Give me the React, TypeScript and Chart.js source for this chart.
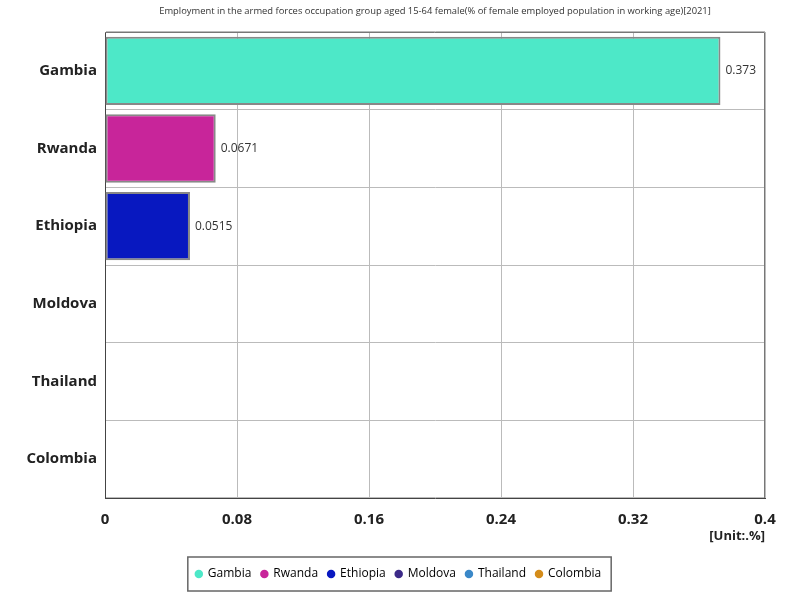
import React, { useEffect, useRef } from "react";
import { Chart, registerables } from "chart.js";

Chart.register(...registerables);

const categories = ["Gambia", "Rwanda", "Ethiopia", "Moldova", "Thailand", "Colombia"];
const values = [0.373, 0.0671, 0.0515, 0, 0, 0];
const valueLabels = ["0.373", "0.0671", "0.0515", "", "", ""];
const colors = ["#4de8c8", "#c8259a", "#0818c0", "#3c2a88", "#3a88c8", "#d48c1a"];
const xTicks = [0, 0.08, 0.16, 0.24, 0.32, 0.4];
const titleText =
  "Employment in the armed forces occupation group aged 15-64 female(% of female employed population in working age)[2021]";
const unitText = "[Unit:.%]";

const FONT = "'Open Sans', 'Noto Sans', sans-serif";
const LEGEND_SHIFT = 16;

const extrasPlugin = {
  id: "extras",
  afterLayout(chart: any) {
    const lg = chart.legend;
    if (lg) {
      lg.left += LEGEND_SHIFT;
      lg.right += LEGEND_SHIFT;
      (lg.legendHitBoxes || []).forEach((h: any) => {
        h.left += LEGEND_SHIFT;
      });
    }
  },
  afterDatasetsDraw(chart: any) {
    const ctx = chart.ctx;
    const meta = chart.getDatasetMeta(0);
    const a = chart.chartArea;
    ctx.save();
    // title centred over plot area
    ctx.font = `9.4px ${FONT}`;
    ctx.fillStyle = "#333";
    ctx.textAlign = "center";
    ctx.textBaseline = "middle";
    ctx.fillText(titleText, (a.left + a.right) / 2, 11);
    // value labels
    ctx.font = `12px ${FONT}`;
    ctx.fillStyle = "#333";
    ctx.textAlign = "left";
    meta.data.forEach((bar: any, i: number) => {
      if (!valueLabels[i]) return;
      ctx.fillText(valueLabels[i], bar.x + 5, bar.y);
    });
    // frame top and right
    ctx.strokeStyle = "#777";
    ctx.lineWidth = 1;
    ctx.beginPath();
    ctx.moveTo(a.left, a.top + 0.5);
    ctx.lineTo(a.right - 0.5, a.top + 0.5);
    ctx.lineTo(a.right - 0.5, a.bottom);
    ctx.stroke();
    // unit label
    ctx.font = `bold 13px ${FONT}`;
    ctx.fillStyle = "#222";
    ctx.textAlign = "right";
    ctx.fillText(unitText, a.right, a.bottom + 38);
    ctx.restore();
  },
  afterDraw(chart: any) {
    const ctx = chart.ctx;
    const lg = chart.legend;
    if (lg && lg.legendHitBoxes && lg.legendHitBoxes.length) {
      const hb = lg.legendHitBoxes;
      const x0 = hb[0].left - 8;
      const last = hb[hb.length - 1];
      const x1 = last.left + last.width + 10;
      const cy = hb[0].top + hb[0].height / 2;
      ctx.save();
      ctx.strokeStyle = "#666";
      ctx.lineWidth = 1.5;
      ctx.strokeRect(x0, cy - 17, x1 - x0, 34);
      ctx.restore();
    }
  },
};

export default function App() {
  const ref = useRef<HTMLCanvasElement>(null);
  useEffect(() => {
    const chart = new Chart(ref.current!, {
      type: "bar",
      data: {
        labels: categories,
        datasets: [
          {
            data: values,
            backgroundColor: colors,
            borderColor: "#888",
            borderWidth: 2,
            borderSkipped: false,
            categoryPercentage: 0.88,
            barPercentage: 1,
          },
        ],
      },
      options: {
        indexAxis: "y",
        animation: false,
        responsive: true,
        maintainAspectRatio: false,
        layout: { padding: { left: 0, right: 35, top: 32, bottom: 10 } },
        plugins: {
          title: { display: false },
          tooltip: { enabled: false },
          legend: {
            position: "bottom",
            labels: {
              font: { family: FONT, size: 12 },
              color: "#333",
              usePointStyle: true,
              pointStyle: "circle",
              boxWidth: 6,
              boxHeight: 6,
              padding: 10,
              generateLabels: () =>
                categories.map((c, i) => ({
                  text: c,
                  fillStyle: colors[i],
                  strokeStyle: colors[i],
                  lineWidth: 0,
                  pointStyle: "circle",
                  hidden: false,
                  index: i,
                })),
            },
            onClick: () => {},
          },
        },
        scales: {
          x: {
            min: 0,
            max: 0.4,
            afterBuildTicks: (scale: any) => {
              scale.ticks = xTicks.map((v) => ({ value: v }));
            },
            ticks: {
              font: { family: FONT, size: 15, weight: "bold" },
              color: "#222",
              padding: 13,
              callback: (v: any) => String(Number(v)),
            },
            grid: { color: "#bbb", drawTicks: false },
            border: { color: "#444", width: 1 },
            afterFit: (scale: any) => {
              scale.height = 60;
            },
          },
          y: {
            ticks: {
              font: { family: FONT, size: 15, weight: "bold" },
              color: "#222",
              padding: 8,
            },
            grid: { color: "#bbb", drawTicks: false, offset: true },
            border: { color: "#444", width: 1 },
            afterFit: (scale: any) => {
              scale.width = 105;
            },
          },
        },
      },
      plugins: [extrasPlugin],
    });
    return () => chart.destroy();
  }, []);
  return (
    <div style={{ position: "fixed", left: 0, top: 0, width: 800, height: 600, background: "#fff" }}>
      <canvas ref={ref} />
    </div>
  );
}
